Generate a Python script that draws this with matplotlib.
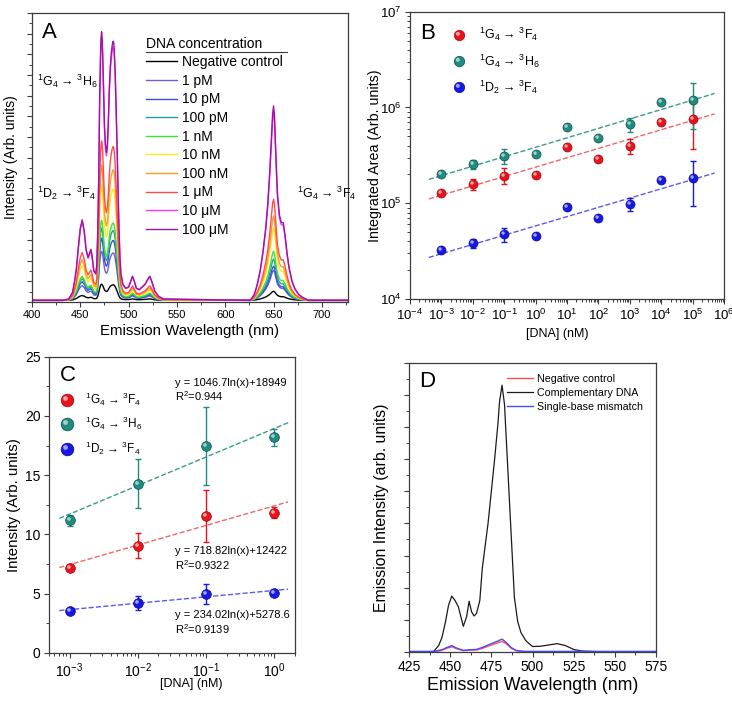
import numpy as np
import matplotlib
matplotlib.use('Agg')
import matplotlib.pyplot as plt
from matplotlib.lines import Line2D
from matplotlib.markers import MarkerStyle
from matplotlib.transforms import Affine2D
from matplotlib.ticker import MultipleLocator, LogLocator, NullFormatter, LogFormatterMathtext

plt.rcParams['font.family'] = ['Liberation Sans', 'DejaVu Sans']
plt.rcParams['mathtext.fontset'] = 'custom'
plt.rcParams['mathtext.rm'] = 'Liberation Sans'
plt.rcParams['mathtext.it'] = 'Liberation Sans:italic'
plt.rcParams['mathtext.bf'] = 'Liberation Sans:bold'
plt.rcParams['mathtext.default'] = 'regular'

# ---------------- datos panel A (espectros vs concentración) ----------------
conc_labels = ['Negative control', '1 pM', '10 pM', '100 pM', '1 nM',
               '10 nM', '100 nM', '1 μM', '10 μM', '100 μM']
conc_colors = ['#000000', '#6e5fd6', '#3550e0', '#2a9a9a', '#33e833',
               '#ffe81a', '#ff9a26', '#ff4a4a', '#ff33ff', '#a012a0']
peak_472 = [0.78, 2.38, 3.01, 3.50, 3.88, 5.58, 6.55, 7.72, 12.72, 13.01]
peak_650 = [0.44, 1.45, 1.65, 2.00, 2.38, 3.50, 4.08, 4.90, 9.13, 9.42]
baseline_a = 0.08

wl_blue = [432, 438, 442, 444, 446, 448, 450, 452, 454, 456, 458, 460, 461, 462,
           464, 466, 467, 468, 469, 470, 471, 471.5, 472, 472.5, 473, 474, 475, 476,
           477, 478, 479, 480, 481, 482, 483, 483.5, 484, 484.5, 485, 486, 487, 488,
           489, 490, 491, 492, 494, 497, 500, 502, 504, 506, 508, 511, 514, 517, 520,
           522, 524, 527, 531, 536]
rel_blue = [0.0, 0.005, 0.03, 0.07, 0.12, 0.20, 0.27, 0.30, 0.26, 0.19, 0.16, 0.18,
            0.19, 0.17, 0.11, 0.10, 0.13, 0.25, 0.45, 0.75, 0.93, 0.98, 1.0, 0.98,
            0.94, 0.80, 0.65, 0.58, 0.55, 0.58, 0.67, 0.79, 0.87, 0.92, 0.95, 0.96,
            0.965, 0.96, 0.94, 0.86, 0.73, 0.58, 0.42, 0.27, 0.16, 0.10, 0.06, 0.045,
            0.05, 0.07, 0.09, 0.07, 0.045, 0.04, 0.05, 0.06, 0.08, 0.09, 0.07, 0.035,
            0.015, 0.005]
wl_red = [626, 630, 633, 636, 639, 642, 644, 646, 648, 649, 650, 651, 652, 653,
          654, 656, 658, 660, 662, 664, 666, 669, 672, 676, 680, 686]
rel_red = [0.0, 0.03, 0.08, 0.15, 0.25, 0.38, 0.50, 0.66, 0.86, 0.96, 1.0, 0.94,
           0.80, 0.67, 0.55, 0.44, 0.40, 0.40, 0.33, 0.24, 0.17, 0.10, 0.06, 0.03,
           0.015, 0.0]

# ---------------- datos panel B (área integrada) ----------------
dna_b = [1e-3, 1e-2, 1e-1, 1e0, 1e1, 1e2, 1e3, 1e4, 1e5]
area_g4f4 = [1.27e5, 1.58e5, 1.94e5, 1.99e5, 3.86e5, 2.90e5, 3.99e5, 7.05e5, 7.64e5]
err_g4f4 = [0, 0.2e5, 0.37e5, 0, 0, 0, 0.75e5, 0, 0.40e6]
area_g4h6 = [2.00e5, 2.55e5, 3.09e5, 3.24e5, 6.20e5, 4.80e5, 6.67e5, 1.15e6, 1.20e6]
err_g4h6 = [0, 0.27e5, 0.55e5, 0, 0, 0, 1.15e5, 0, 0.60e6]
area_d2f4 = [3.25e4, 3.82e4, 4.74e4, 4.59e4, 9.14e4, 7.08e4, 9.83e4, 1.73e5, 1.85e5]
err_d2f4 = [0, 0.42e4, 0.82e4, 0, 0, 0, 1.6e4, 0, 0.92e5]

# ---------------- datos panel C (intensidad, rango bajo) ----------------
dna_c = [1e-3, 1e-2, 1e-1, 1e0]
int_g4f4 = [7.18, 9.07, 11.54, 11.85]
ierr_g4f4 = [0.3, 1.07, 2.2, 0.45]
int_g4h6 = [11.18, 14.30, 17.45, 18.19]
ierr_g4h6 = [0.45, 2.05, 3.27, 0.69]
int_d2f4 = [3.52, 4.22, 4.98, 5.07]
ierr_d2f4 = [0.1, 0.56, 0.88, 0.1]
fit_c = [(718.82, 12422, 0.9322), (1046.7, 18949, 0.944), (234.02, 5278.6, 0.9139)]

# ---------------- datos panel D (especificidad) ----------------
wl_d = [425, 435, 440, 443, 445, 447, 449, 451, 453, 455, 457, 458, 460, 461.5,
        463, 464.5, 466, 468, 469.5, 471, 473, 475, 477, 479, 480, 481.5, 483,
        484.5, 486, 487.5, 489, 491, 493, 496, 500, 505, 510, 515, 520, 525, 530,
        540, 575]
em_comp = [0.0, 0.0, 0.02, 0.2, 0.45, 0.9, 1.45, 1.74, 1.6, 1.4, 1.0, 0.8, 1.1,
           1.58, 1.25, 1.12, 1.2, 1.6, 2.6, 3.2, 4.0, 5.0, 6.0, 7.1, 7.8, 8.3, 7.7,
           6.2, 4.7, 3.2, 1.7, 0.95, 0.6, 0.35, 0.17, 0.18, 0.22, 0.26, 0.2, 0.08,
           0.03, 0.01, 0.0]
wl_d2 = [425, 440, 445, 448, 451, 454, 458, 462, 466, 470, 474, 478, 481.5, 484,
         487, 490, 495, 500, 575]
em_neg = [0.0, 0.0, 0.05, 0.12, 0.16, 0.1, 0.04, 0.06, 0.06, 0.12, 0.2, 0.27,
          0.33, 0.26, 0.12, 0.04, 0.01, 0.0, 0.0]
em_mis = [0.02, 0.02, 0.07, 0.14, 0.2, 0.12, 0.05, 0.07, 0.08, 0.15, 0.24, 0.32,
          0.4, 0.3, 0.14, 0.05, 0.02, 0.02, 0.02]

red, teal, blue = '#e8141c', '#1e8c7e', '#1818e6'
red_l, teal_l, blue_l = '#f06666', '#3a9c8c', '#5a5af0'
ser_colors = [red, teal, blue]
ser_edges = ['#9a0a0a', '#0e5048', '#0a0a8a']
ser_lines = [red_l, teal_l, blue_l]
ser_labels = [r'$^{1}$G$_{4}$ → $^{3}$F$_{4}$',
              r'$^{1}$G$_{4}$ → $^{3}$H$_{6}$',
              r'$^{1}$D$_{2}$ → $^{3}$F$_{4}$']

W, H = 732, 701
fig = plt.figure(figsize=(W / 100, H / 100), dpi=100)


def ejes_px(x0, y0, x1, y1):
    return fig.add_axes([x0 / W, 1 - y1 / H, (x1 - x0) / W, (y1 - y0) / H])


def estilo(ax, fs):
    for s in ax.spines.values():
        s.set_color('#3c3c3c')
        s.set_linewidth(0.9)
    ax.tick_params(which='both', direction='out', top=False, right=False,
                   color='#3c3c3c', labelsize=fs, pad=2.5)
    ax.tick_params(which='major', length=3.5, width=0.8)
    ax.tick_params(which='minor', length=2, width=0.7)


def bola(ax, x, y, color, edge, ms):
    main, = ax.plot(x, y, 'o', ms=ms, mfc=color, mec=edge, mew=0.5, ls='none', zorder=4)
    brillo = MarkerStyle('o', transform=Affine2D().scale(0.38).translate(-0.16, 0.16))
    hl, = ax.plot(x, y, ls='none', marker=brillo, ms=ms, mfc='white', mec='none',
                  alpha=0.6, zorder=5)
    return (main, hl)


axA = ejes_px(32, 13, 348, 302)
axB = ejes_px(410, 11.7, 724, 299)
axC = ejes_px(49, 356.7, 295, 653)
axD = ejes_px(409, 362.7, 656, 652)

# ---------------- A ----------------
estilo(axA, 8)
wl_a = np.array([400] + wl_blue + wl_red + [727], dtype=float)
for lab, col, p1, p2 in zip(conc_labels, conc_colors, peak_472, peak_650):
    y = np.concatenate([[0], p1 * np.array(rel_blue), p2 * np.array(rel_red), [0]]) + baseline_a
    axA.plot(wl_a, y, color=col, lw=1.0, label=lab)
axA.set_xlim(400, 727)
axA.set_ylim(0, 14)
axA.xaxis.set_major_locator(MultipleLocator(50))
axA.xaxis.set_minor_locator(MultipleLocator(25))
axA.yaxis.set_major_locator(MultipleLocator(1))
axA.yaxis.set_minor_locator(MultipleLocator(0.5))
axA.tick_params(labelleft=False)
axA.set_xlabel('Emission Wavelength (nm)', fontsize=10.8)
axA.set_ylabel('Intensity (Arb. units)', fontsize=10)
axA.xaxis.set_label_coords(0.5, -0.075)
axA.yaxis.set_label_coords(-0.044, 0.5)
axA.text(0.031, 0.913, 'A', transform=axA.transAxes, fontsize=16)
axA.text(0.015, 0.747, ser_labels[1], transform=axA.transAxes, fontsize=9)
axA.text(0.015, 0.361, ser_labels[2], transform=axA.transAxes, fontsize=9)
axA.text(0.838, 0.361, ser_labels[0], transform=axA.transAxes, fontsize=9)
legA = axA.legend(title='DNA concentration', loc='upper left', bbox_to_anchor=(0.36, 0.918),
                  frameon=False, fontsize=10, title_fontsize=10, handlelength=2.25,
                  handletextpad=0.35, labelspacing=0.33, borderpad=0, borderaxespad=0,
                  alignment='left')

# ---------------- B ----------------
estilo(axB, 9.5)
axB.set_xscale('log')
axB.set_yscale('log')
handlesB = []
for vals, errs, col, edge, lc in zip([area_g4f4, area_g4h6, area_d2f4],
                                     [err_g4f4, err_g4h6, err_d2f4],
                                     ser_colors, ser_edges, ser_lines):
    k, b = np.polyfit(np.log10(dna_b), np.log10(vals), 1)
    xf = np.logspace(-3.4, 5.7, 50)
    axB.plot(xf, 10 ** (k * np.log10(xf) + b), ls='--', color=lc, lw=1.0, zorder=2)
    axB.errorbar(dna_b, vals, yerr=errs, fmt='none', ecolor=col, elinewidth=1,
                 capsize=2.5, capthick=1, zorder=3)
    handlesB.append(bola(axB, dna_b, vals, col, edge, 6.5))
axB.set_xlim(1e-4, 1e6)
axB.set_ylim(1e4, 1e7)
for axis in (axB.xaxis, axB.yaxis):
    axis.set_major_locator(LogLocator(base=10, numticks=15))
    axis.set_minor_locator(LogLocator(base=10, subs=np.arange(2, 10), numticks=15))
    axis.set_minor_formatter(NullFormatter())
    axis.set_major_formatter(LogFormatterMathtext())
axB.set_xlabel('[DNA] (nM)', fontsize=9)
axB.set_ylabel('Integrated Area (Arb. units)', fontsize=10.3)
axB.xaxis.set_label_coords(0.468, -0.1)
axB.yaxis.set_label_coords(-0.09, 0.5)
axB.text(0.032, 0.905, 'B', transform=axB.transAxes, fontsize=16)
axB.legend(handlesB, ser_labels, loc='upper left', bbox_to_anchor=(0.135, 0.95),
           frameon=False, fontsize=9, handlelength=1.0, handletextpad=1.1,
           labelspacing=0.72, borderpad=0, borderaxespad=0, markerscale=1.15)

# ---------------- C ----------------
estilo(axC, 10)
axC.set_xscale('log')
handlesC = []
for vals, errs, col, edge, lc, (a, b0, r2) in zip([int_g4f4, int_g4h6, int_d2f4],
                                                  [ierr_g4f4, ierr_g4h6, ierr_d2f4],
                                                  ser_colors, ser_edges, ser_lines, fit_c):
    xf = np.logspace(-3.15, 0.2, 50)
    axC.plot(xf, (a * np.log(xf) + b0) / 1000, ls='--', color=lc, lw=1.0, zorder=2)
    axC.errorbar(dna_c, vals, yerr=errs, fmt='none', ecolor=col, elinewidth=1,
                 capsize=2.5, capthick=1, zorder=3)
    handlesC.append(bola(axC, dna_c, vals, col, edge, 7))
axC.set_xlim(5e-4, 2)
axC.set_ylim(0, 25)
axC.xaxis.set_major_locator(LogLocator(base=10, numticks=10))
axC.xaxis.set_minor_locator(LogLocator(base=10, subs=np.arange(2, 10), numticks=10))
axC.xaxis.set_minor_formatter(NullFormatter())
axC.xaxis.set_major_formatter(LogFormatterMathtext())
axC.yaxis.set_major_locator(MultipleLocator(5))
axC.yaxis.set_minor_locator(MultipleLocator(2.5))
axC.set_xlabel('[DNA] (nM)', fontsize=9)
axC.set_ylabel('Intensity (Arb. units)', fontsize=10.8)
axC.xaxis.set_label_coords(0.577, -0.085)
axC.yaxis.set_label_coords(-0.114, 0.5)
axC.text(0.045, 0.919, 'C', transform=axC.transAxes, fontsize=16)
axC.legend(handlesC, ser_labels, loc='upper left', bbox_to_anchor=(0.05, 0.885),
           frameon=False, fontsize=8.5, handlelength=1.0, handletextpad=1.0,
           labelspacing=0.6, borderpad=0, borderaxespad=0, markerscale=1.3)
eq_pos = [(0.333, 0.28), (0.902, 0.85), (0.117, 0.064)]
for (a, b0, r2), (y1, y2) in zip(fit_c, eq_pos):
    axC.text(0.512, y1, f'y = {a:g}ln(x)+{b0:g}', transform=axC.transAxes, fontsize=8)
    axC.text(0.512, y2, f'R$^{{2}}$={r2:g}', transform=axC.transAxes, fontsize=8)

# ---------------- D ----------------
estilo(axD, 10)
axD.plot(wl_d2, em_neg, color='#ff5050', lw=1.0, label='Negative control')
axD.plot(wl_d, em_comp, color='#1a1a1a', lw=0.9, label='Complementary DNA')
axD.plot(wl_d2, em_mis, color='#4a4aff', lw=1.0, label='Single-base mismatch')
axD.set_xlim(425, 575)
axD.set_ylim(0, 9)
axD.xaxis.set_major_locator(MultipleLocator(25))
axD.xaxis.set_minor_locator(MultipleLocator(12.5))
axD.yaxis.set_major_locator(MultipleLocator(1))
axD.yaxis.set_minor_locator(MultipleLocator(0.5))
axD.tick_params(labelleft=False)
axD.set_xlabel('Emission Wavelength (nm)', fontsize=12.8)
axD.set_ylabel('Emission Intensity (arb. units)', fontsize=11.4)
axD.xaxis.set_label_coords(0.5, -0.086)
axD.yaxis.set_label_coords(-0.081, 0.5)
axD.text(0.042, 0.917, 'D', transform=axD.transAxes, fontsize=16)
axD.legend(loc='upper left', bbox_to_anchor=(0.395, 0.962), frameon=False, fontsize=7.7,
           handlelength=2.5, handletextpad=0.3, labelspacing=0.38, borderpad=0,
           borderaxespad=0)

# subrayado del título de la leyenda A
fig.canvas.draw()
tb = legA.get_title().get_window_extent()
lb = legA.get_window_extent()
fig.add_artist(Line2D([lb.x0 / W, 287 / W], [(tb.y0 - 1) / H, (tb.y0 - 1) / H],
                      color='#3c3c3c', lw=0.8))

fig.savefig('out.png', dpi=100)
